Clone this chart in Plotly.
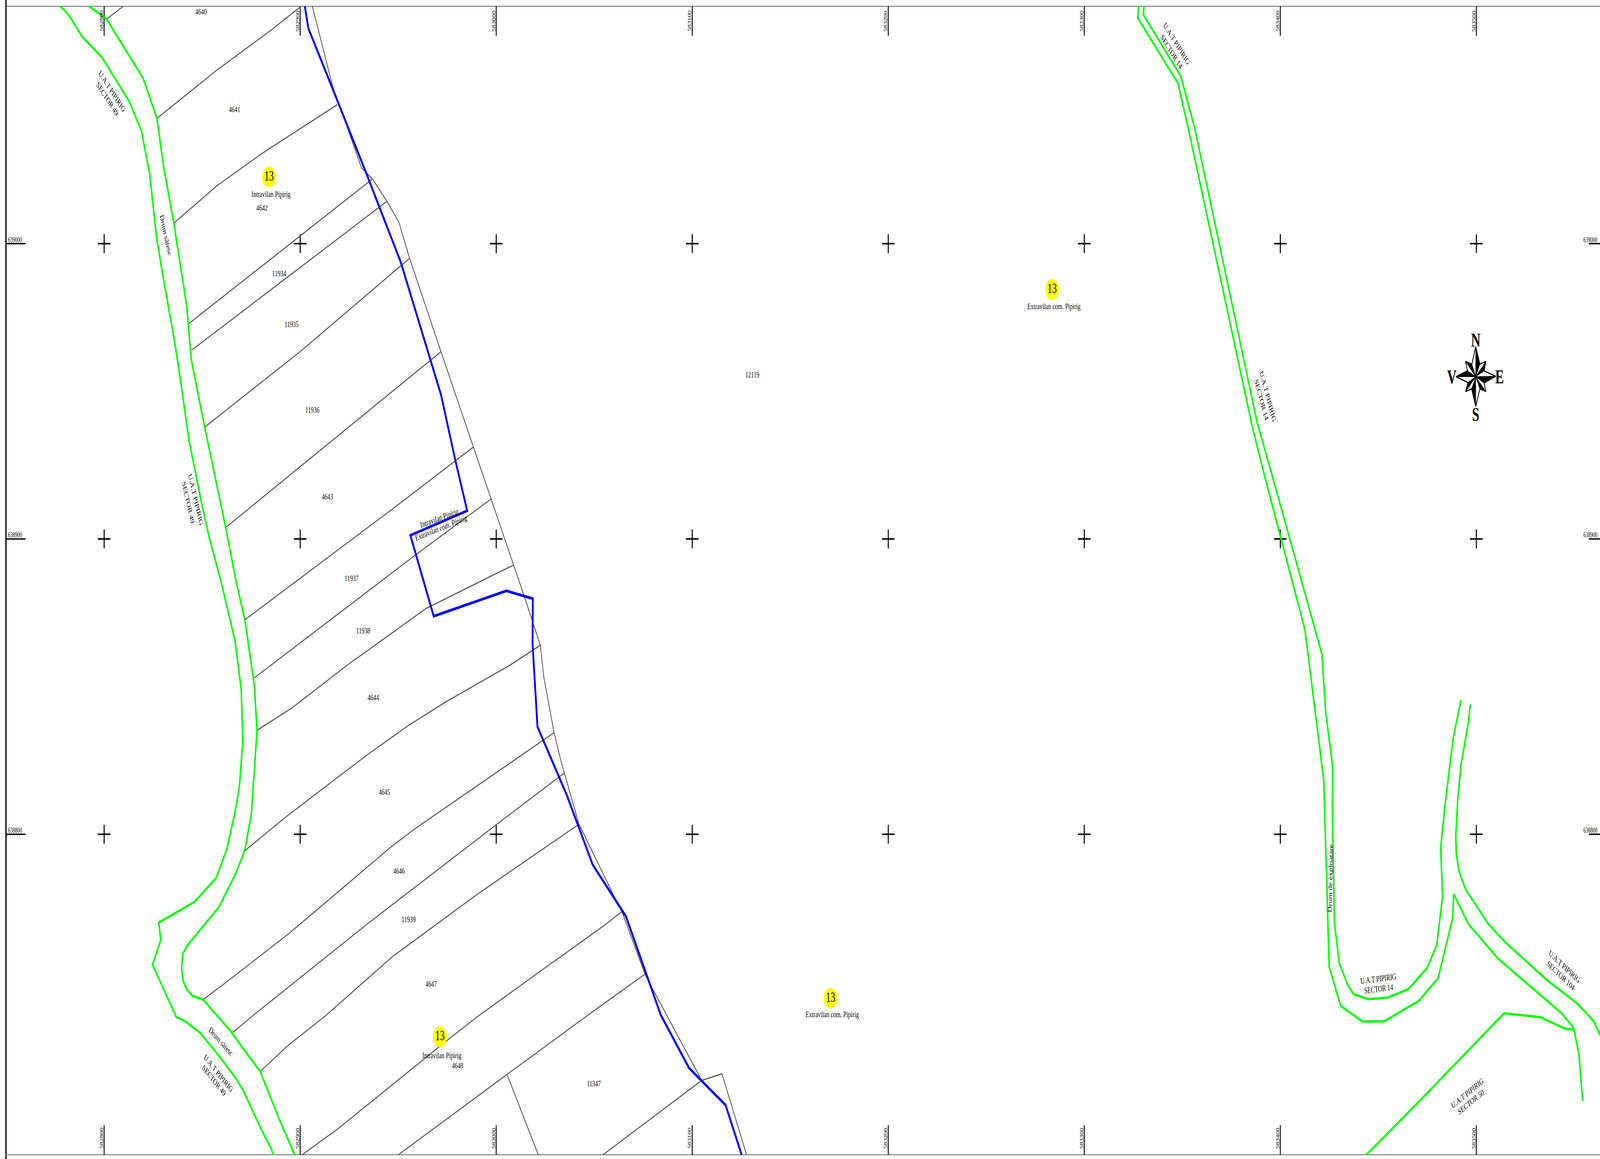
import plotly.graph_objects as go

# Map sheet: readings are in sheet units (1 m = 7.557 units), converted to Stereo-70 metres.
SHEET_W, SHEET_H = 6168, 2966
SCALE = 7.557
def east(u):
    return 582800 + (u - 401.5) / SCALE
def north(v):
    return 639000 - (v - 623.5) / SCALE

EASTINGS = [582800, 582900, 583000, 583100, 583200, 583300, 583400, 583500]
NORTHINGS = [639000, 638900, 638800]
ARM_M = 3.2
TICK_TOP_M = 10.0
TICK_SIDE_M = 10.0

ROAD_W_OUTER = [(232,16),(253,29),(275,49),(316,93),(393,147),(497,258),(545,335),(577,445),(604,611),(630,713),(670,862),(684,920),(729,1128),(781,1300),(808,1379),(853,1491),(906,1640),(930,1764),(936,1895),(924,2005),(911,2063),(875,2172),(833,2247),(750,2308),(612,2361),(620,2405),(588,2469),(680,2603),(713,2613),(771,2643),(842,2700),(912,2762),(937,2790),(1007,2890),(1046,2940),(1053,2955)]
ROAD_W_INNER = [(343,16),(410,48),(552,201),(605,303),(630,423),(670,571),(720,784),(737,919),(789,1093),(853,1300),(870,1350),(911,1491),(944,1586),(980,1752),(991,1868),(969,2084),(943,2177),(909,2235),(843,2322),(723,2419),(705,2440),(700,2477),(705,2509),(720,2532),(741,2548),(783,2558),(839,2600),(887,2637),(937,2683),(1003,2742),(1078,2867),(1136,2955)]
ROAD_E_OUTER = [(4389,16),(4386,46),(4541,213),(4581,329),(4826,1087),(4868,1200),(5031,1613),(5103,1996),(5112,2200),(5124,2474),(5168,2574),(5252,2614),(5335,2614),(5470,2561),(5544,2503),(5600,2349),(5604,2288),(5660,2364),(5775,2453),(6020,2593),(6066,2630),(6087,2698),(6101,2818)]
ROAD_E_INNER = [(4410,16),(4408,38),(4552,195),(4606,329),(4847,1083),(4897,1200),(5096,1674),(5110,1820),(5138,1965),(5136,2061),(5144,2359),(5163,2465),(5195,2520),(5218,2544),(5274,2557),(5349,2553),(5430,2531),(5502,2477),(5539,2417),(5561,2295),(5554,2168),(5570,2065),(5601,1893),(5626,1812),(5632,1791)]
ROAD_E_BRANCH = [(5668,1803),(5661,1847),(5633,1954),(5620,2042),(5612,2141),(5614,2183),(5624,2229),(5650,2276),(5737,2364),(5804,2412),(5967,2510),(6073,2564),(6111,2589),(6145,2615),(6168,2649)]
ROAD_S50 = [(5268,2955),(5482,2811),(5798,2593),(5937,2603),(6032,2632),(6066,2635)]

INTRAVILAN = [(1175,16),(1189,73),(1293,245),(1407,435),(1545,671),(1660,925),(1700,1010),(1755,1177),(1801,1307),(1582,1370),(1672,1577),(1952,1512),(2054,1532),(2053,1647),(2072,1860),(2184,2033),(2285,2213),(2413,2345),(2511,2528),(2547,2597),(2656,2733),(2797,2828),(2859,2955)]

PARCEL_EAST_EDGE = [(1204,16),(1282,220),(1394,430),(1436,458),(1492,516),(1538,569),(1579,661),(1700,900),(1825,1144),(1893,1277),(1980,1446),(2018,1520),(2083,1651),(2096,1731),(2136,1875),(2163,1949),(2232,2109),(2374,2303),(2399,2335),(2486,2493),(2515,2530),(2699,2757)]
PARCEL_LINES = [
    [(413,48),(475,16)],
    [(605,303),(831,182),(1041,79),(1157,18)],
    [(670,571),(837,475),(1016,390),(1300,268)],
    [(730,827),(1434,459)],
    [(739,896),(1490,516)],
    [(789,1093),(1157,900),(1579,661)],
    [(870,1350),(1700,900)],
    [(944,1586),(1518,1300),(1825,1144)],
    [(980,1735),(1594,1424),(1893,1277)],
    [(993,1868),(1125,1812),(1339,1702),(1643,1557),(1900,1472),(1980,1446)],
    [(944,2177),(1107,2088),(1415,1932),(1578,1855),(1719,1796),(1964,1703),(2084,1651)],
    [(783,2558),(848,2526),(1112,2390),(1510,2166),(1595,2123),(2136,1875)],
    [(898,2642),(973,2600),(1415,2365),(1914,2110),(2174,1979)],
    [(1003,2742),(1111,2675),(1254,2600),(1513,2448),(1839,2289),(2230,2110)],
    [(1165,2955),(1300,2890),(1734,2657),(1844,2600),(2105,2475),(2330,2368),(2397,2333)],
    [(1536,2955),(1956,2749),(2262,2600),(2486,2493)],
    [(1956,2752),(2075,2955)],
    [(2325,2955),(2705,2765),(2783,2748),(2878,2955)],
]

COMPASS_CENTRE = (5689,964)
COMPASS_RIM = [(5689,887),(5705,932),(5728,925),(5721,949),(5766,963),(5721,980),(5728,1002),(5705,995),(5689,1040),(5673,995),(5650,1002),(5659,979),(5613,964),(5657,949),(5650,925),(5674,932)]

PARCEL_IDS = [("4640",775,29),("4641",904,279),("4642",1010,531),("11934",1076,699),("11935",1124,829),("11936",1204,1048),("4643",1262,1270),("11937",1355,1479),("11938",1400,1613),("4644",1439,1784),("4645",1482,2026),("4646",1538,2228),("11939",1575,2352),("4647",1662,2517),("4648",1764,2726),("11347",2289,2772),("12119",2900,958)]
AREA_NOTES = [("Intravilan Pipirig",1044,496),("Intravilan Pipirig",1703,2700),("Extravilan com. Pipirig",4063,783),("Extravilan com. Pipirig",3208,2595)]
SECTOR_CODE = [(1037,453),(1696,2653),(4056,741),(3202,2555)]
ROTATED_NOTES = [
    ("U.A.T PIPIRIG",432,233,46),("SECTOR 49",414,252,46),
    ("Drum sătesc",640,602,72),
    ("U.A.T PIPIRIG",755,1278,71),("SECTOR 49",726,1285,72),
    ("Drum sătesc",852,2665,37),
    ("U.A.T PIPIRIG",842,2746,40),("SECTOR 49",825,2764,40),
    ("U.A.T PIPIRIG",4536,111,47),("SECTOR 14",4516,131,47),
    ("U.A.T PIPIRIG",4888,1014,68),("SECTOR 14",4863,1022,68),
    ("Drum de exploatare",5128,2248,-88),
    ("U.A.T PIPIRIG",5313,2504,-5),("SECTOR 14",5314,2530,-5),
    ("U.A.T PIPIRIG",6031,2473,32.5),("SECTOR 104",6017,2496,32.5),
    ("U.A.T PIPIRIG",5656,2797,-29),("SECTOR 50",5669,2820,-29),
    ("Intravilan Pipirig",1693,1325,-14),("Extravilan com. Pipirig",1700,1350,-15),
]
COMPASS_LETTERS = [("N",5689,870),("E",5780,964),("S",5689,1060),("V",5597,964)]

SERIF = "Liberation Serif"
GREEN, BLUE, GREY = "#00ff00", "#0000ff", "#555555"

fig = go.Figure()

def polyline(points, color, width):
    fig.add_trace(go.Scatter(x=[east(p[0]) for p in points], y=[north(p[1]) for p in points],
                             mode="lines", line=dict(color=color, width=width), hoverinfo="skip"))

# sheet frame
polyline([(23,0),(23,2966)], "#000000", 5)
polyline([(23,16),(6168,16)], "#333333", 1.5)
polyline([(23,2955),(6168,2955)], "#8c8c8c", 3)

# grid crosses and border ticks
for e in EASTINGS:
    for n in NORTHINGS:
        fig.add_trace(go.Scatter(x=[e-ARM_M, e+ARM_M, None, e, e], y=[n, n, None, n-ARM_M, n+ARM_M],
                                 mode="lines", line=dict(color="#000000", width=4), hoverinfo="skip"))
    fig.add_trace(go.Scatter(x=[e, e, None, e, e],
                             y=[north(16), north(16)-TICK_TOP_M, None, north(2955), north(2955)+TICK_TOP_M],
                             mode="lines", line=dict(color="#000000", width=3.5), hoverinfo="skip"))
for n in NORTHINGS:
    fig.add_trace(go.Scatter(x=[east(23), east(23)+TICK_SIDE_M, None, east(6125), east(6168)],
                             y=[n, n, None, n, n], mode="lines",
                             line=dict(color="#000000", width=3.5), hoverinfo="skip"))

for line in PARCEL_LINES:
    polyline(line, GREY, 3)
polyline(PARCEL_EAST_EDGE, GREY, 3)

for road in (ROAD_W_OUTER, ROAD_W_INNER, ROAD_E_OUTER, ROAD_E_INNER, ROAD_E_BRANCH, ROAD_S50):
    polyline(road, GREEN, 6)
polyline(INTRAVILAN, BLUE, 7)

# compass rose
rim = COMPASS_RIM + COMPASS_RIM[:1]
fig.add_trace(go.Scatter(x=[east(p[0]) for p in rim], y=[north(p[1]) for p in rim], mode="lines",
                         fill="toself", fillcolor="#ffffff", line=dict(color="#000000", width=3), hoverinfo="skip"))
for i in range(0, 16, 2):
    tri = [COMPASS_CENTRE, COMPASS_RIM[i], COMPASS_RIM[i+1], COMPASS_CENTRE]
    fig.add_trace(go.Scatter(x=[east(p[0]) for p in tri], y=[north(p[1]) for p in tri], mode="lines",
                             fill="toself", fillcolor="#000000", line=dict(color="#000000", width=1.5), hoverinfo="skip"))

# sector code circles
fig.add_trace(go.Scatter(x=[east(p[0]) for p in SECTOR_CODE], y=[north(p[1]) for p in SECTOR_CODE],
                         mode="markers+text", text=["13"]*len(SECTOR_CODE), textposition="middle center",
                         textfont=dict(family=SERIF, size=36, color="#000000"),
                         marker=dict(color="#ffff00", size=53, line=dict(width=0)), hoverinfo="skip"))

def note(text, x, y, angle=0, size=22, bold=False, anchor="center"):
    fig.add_annotation(x=east(x), y=north(y), text=f"<b>{text}</b>" if bold else text, textangle=angle,
                       showarrow=False, xanchor=anchor, yanchor="middle", borderpad=0,
                       font=dict(family=SERIF, size=size, color="#000000"))

for t, x, y in PARCEL_IDS + AREA_NOTES:
    note(t, x, y)
for t, x, y, a in ROTATED_NOTES:
    note(t, x, y, a)
for t, x, y in COMPASS_LETTERS:
    note(t, x, y, size=50, bold=True)

# coordinate labels
for e in EASTINGS:
    for yy in (54, 2913):
        fig.add_annotation(x=e, xshift=-10, y=north(yy), text=str(e), textangle=-90, showarrow=False,
                           font=dict(family=SERIF, size=18, color="#000000"))
for n in NORTHINGS:
    fig.add_annotation(x=east(58), y=n, yshift=10, text=str(n), showarrow=False,
                       font=dict(family=SERIF, size=18, color="#000000"))
    fig.add_annotation(x=east(6160), y=n, yshift=10, text=str(n), showarrow=False, xanchor="right",
                       font=dict(family=SERIF, size=18, color="#000000"))

fig.update_layout(
    width=SHEET_W, height=SHEET_H, margin=dict(l=0, r=0, t=0, b=0), showlegend=False,
    paper_bgcolor="#ffffff", plot_bgcolor="#ffffff", hovermode=False,
    xaxis=dict(range=[east(0), east(SHEET_W)], visible=False, fixedrange=True),
    yaxis=dict(range=[north(SHEET_H), north(0)], visible=False, fixedrange=True),
)

# The browser window may be narrower than the sheet: fit the whole sheet into it.
FIT_TO_WINDOW = f"""
document.documentElement.style.overflow='hidden';
document.body.style.margin='0';
var gd=document.querySelector('.plotly-graph-div');
gd.style.transformOrigin='0 0';
gd.style.transform='scale('+(window.innerWidth/{SHEET_W})+','+(window.innerHeight/{SHEET_H})+')';
"""
fig.write_html("out.html", config={"displayModeBar": False}, post_script=FIT_TO_WINDOW)
